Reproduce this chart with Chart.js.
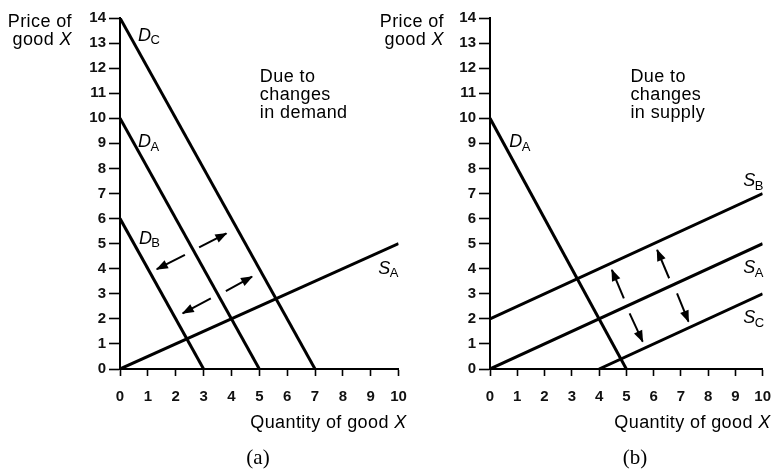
<!DOCTYPE html>
<html>
<head>
<meta charset="utf-8">
<script src="https://cdn.jsdelivr.net/npm/chart.js@4/dist/chart.umd.min.js"></script>
<style>
  html, body { margin: 0; padding: 0; background: #fff; }
  #wrap { position: relative; width: 783px; height: 469px; }
  #wrap canvas { position: absolute; left: 0; top: 0; width: 783px; height: 469px; }
</style>
</head>
<body>
<div id="wrap">
  <canvas id="panelA" width="783" height="469"></canvas>
  <canvas id="panelB" width="783" height="469"></canvas>
</div>
<script>
// Axis ticks shared by both panels
const quantityTicks = [0, 1, 2, 3, 4, 5, 6, 7, 8, 9, 10];
const priceTicks = [0, 1, 2, 3, 4, 5, 6, 7, 8, 9, 10, 11, 12, 13, 14];

// Demand curves: quantity and price at each end
const demandA_qty = [0, 5],  demandA_price = [10, 0];
const demandB_qty = [0, 3],  demandB_price = [6, 0];
const demandC_qty = [0, 7],  demandC_price = [14, 0];

// Supply curves: quantity and price at each end
const supplyA_qty = [0, 10], supplyA_price = [0, 5];
const supplyB_qty = [0, 10], supplyB_price = [2, 7];
const supplyC_qty = [4, 10], supplyC_price = [0, 3];

// Shift arrows: [from quantity, from price, to quantity, to price]
const demandShiftArrows = [
  [2.84, 4.85, 3.82, 5.41],
  [2.33, 4.55, 1.32, 3.98],
  [3.80, 3.11, 4.74, 3.68],
  [3.26, 2.82, 2.25, 2.22]
];
const supplyShiftArrows = [
  [4.91, 2.82, 4.47, 3.95],
  [6.57, 3.62, 6.13, 4.75],
  [5.12, 2.22, 5.60, 1.09],
  [6.86, 3.02, 7.28, 1.89]
];

// Curve names: letter, subscript, anchor (quantity, price)
const curveNamesA = [
  ['D', 'C', 0.65, 13.3],
  ['D', 'A', 0.65, 9.05],
  ['D', 'B', 0.68, 5.2],
  ['S', 'A', 9.27, 4.0]
];
const curveNamesB = [
  ['D', 'A', 0.71, 9.05],
  ['S', 'B', 9.29, 7.5],
  ['S', 'A', 9.29, 4.03],
  ['S', 'C', 9.29, 2.03]
];

// Panel notes: lines and anchor (quantity, price)
const noteA = [['Due to', 'changes', 'in demand'], 5.02, 11.65];
const noteB = [['Due to', 'changes', 'in supply'], 5.15, 11.65];

const SANS = '"Liberation Sans", Arial, Helvetica, sans-serif';
const SERIF = '"Liberation Serif", "Times New Roman", serif';

function curve(qty, price) {
  return {
    data: qty.map((q, i) => ({ x: q, y: price[i] })),
    showLine: true, borderColor: '#000', borderWidth: 3,
    pointRadius: 0, borderCapStyle: 'butt', fill: false
  };
}

function arrow(a) {
  return {
    data: [{ x: a[0], y: a[1] }, { x: a[2], y: a[3] }],
    showLine: true, borderColor: '#000', borderWidth: 2,
    pointRadius: 0, fill: false, arrow: true
  };
}

// Draws arrow heads, curve names, notes, axis titles and the panel caption
const panelText = {
  id: 'panelText',
  afterDatasetsDraw(chart, args, opts) {
    const ctx = chart.ctx;
    const xs = chart.scales.x, ys = chart.scales.y;
    const area = chart.chartArea;
    ctx.save();
    ctx.fillStyle = '#000';

    // arrow heads at the end of each arrow shaft
    chart.data.datasets.forEach((ds, i) => {
      if (!ds.arrow) return;
      const pts = chart.getDatasetMeta(i).data;
      const a = pts[0], b = pts[pts.length - 1];
      const ang = Math.atan2(b.y - a.y, b.x - a.x);
      const L = 11, W = 4.5;
      const c = Math.cos(ang), s = Math.sin(ang);
      ctx.beginPath();
      ctx.moveTo(b.x + c * 1, b.y + s * 1);
      ctx.lineTo(b.x - L * c + W * s, b.y - L * s - W * c);
      ctx.lineTo(b.x - L * c - W * s, b.y - L * s + W * c);
      ctx.closePath();
      ctx.fill();
    });

    ctx.letterSpacing = '0.4px';

    // curve names with subscripts
    ctx.textBaseline = 'middle';
    ctx.textAlign = 'left';
    opts.names.forEach(([main, sub, q, p]) => {
      const x = xs.getPixelForValue(q), y = ys.getPixelForValue(p);
      ctx.font = 'italic 18px ' + SANS;
      ctx.fillText(main, x, y);
      const w = ctx.measureText(main).width;
      ctx.font = '13px ' + SANS;
      ctx.fillText(sub, x + w - 1, y + 5);
    });

    // note text
    ctx.font = '18px ' + SANS;
    const [lines, nq, np] = opts.note;
    const nx = xs.getPixelForValue(nq), ny = ys.getPixelForValue(np);
    lines.forEach((t, k) => ctx.fillText(t, nx, ny + k * 18));

    // vertical axis title, right aligned left of the axis
    const tx = area.left - opts.titleGap;
    ctx.textAlign = 'right';
    ctx.font = '18px ' + SANS;
    ctx.fillText('Price of', tx, 22);
    ctx.font = 'italic 18px ' + SANS;
    const wx = ctx.measureText('X').width;
    ctx.fillText('X', tx, 40);
    ctx.font = '18px ' + SANS;
    ctx.fillText('good ', tx - wx, 40);

    // horizontal axis title
    const qx = area.right + 8, qy = area.bottom + 54;
    ctx.font = 'italic 18px ' + SANS;
    const wq = ctx.measureText('X').width;
    ctx.fillText('X', qx, qy);
    ctx.font = '18px ' + SANS;
    ctx.fillText('Quantity of good ', qx - wq, qy);

    // caption
    ctx.letterSpacing = '0px';
    ctx.textAlign = 'center';
    ctx.font = '21px ' + SERIF;
    ctx.fillText(opts.caption, opts.captionX, area.bottom + 89);
    ctx.restore();
  }
};

function axis(min, max, values, tickLength, padding, fit) {
  return {
    type: 'linear', min, max,
    afterBuildTicks: (s) => { s.ticks = values.map(v => ({ value: v })); },
    ticks: { autoSkip: false, color: '#111', padding, font: { family: SANS, size: 15, weight: 'bold' } },
    grid: { drawOnChartArea: false, drawTicks: true, tickLength, tickWidth: 1.6, tickColor: '#000' },
    border: { display: true, color: '#000', width: 2 },
    afterFit: fit
  };
}

function makePanel(id, datasets, names, note, caption, captionX, frame) {
  return new Chart(document.getElementById(id), {
    type: 'scatter',
    data: { datasets },
    options: {
      responsive: false, animation: false, events: [],
      layout: { padding: { left: frame.padLeft, right: frame.padRight, top: 18, bottom: 60 } },
      plugins: {
        legend: { display: false }, tooltip: { enabled: false },
        panelText: { names, note, caption, captionX, titleGap: frame.titleGap }
      },
      scales: {
        x: axis(0, 10, quantityTicks, 7, 12, (s) => { s.height = 40; }),
        y: axis(0, 14, priceTicks, 11, 3, (s) => { s.width = frame.yWidth; })
      }
    },
    plugins: [panelText]
  });
}

makePanel('panelA', [
  curve(demandC_qty, demandC_price),
  curve(demandA_qty, demandA_price),
  curve(demandB_qty, demandB_price),
  curve(supplyA_qty, supplyA_price),
  ...demandShiftArrows.map(arrow)
], curveNamesA, noteA, '(a)', 258, { padLeft: 0, yWidth: 120, padRight: 384.4, titleGap: 48 });

makePanel('panelB', [
  curve(demandA_qty, demandA_price),
  curve(supplyB_qty, supplyB_price),
  curve(supplyA_qty, supplyA_price),
  curve(supplyC_qty, supplyC_price),
  ...supplyShiftArrows.map(arrow)
], curveNamesB, noteB, '(b)', 635, { padLeft: 380, yWidth: 110, padRight: 11.3, titleGap: 46 });
</script>
</body>
</html>
